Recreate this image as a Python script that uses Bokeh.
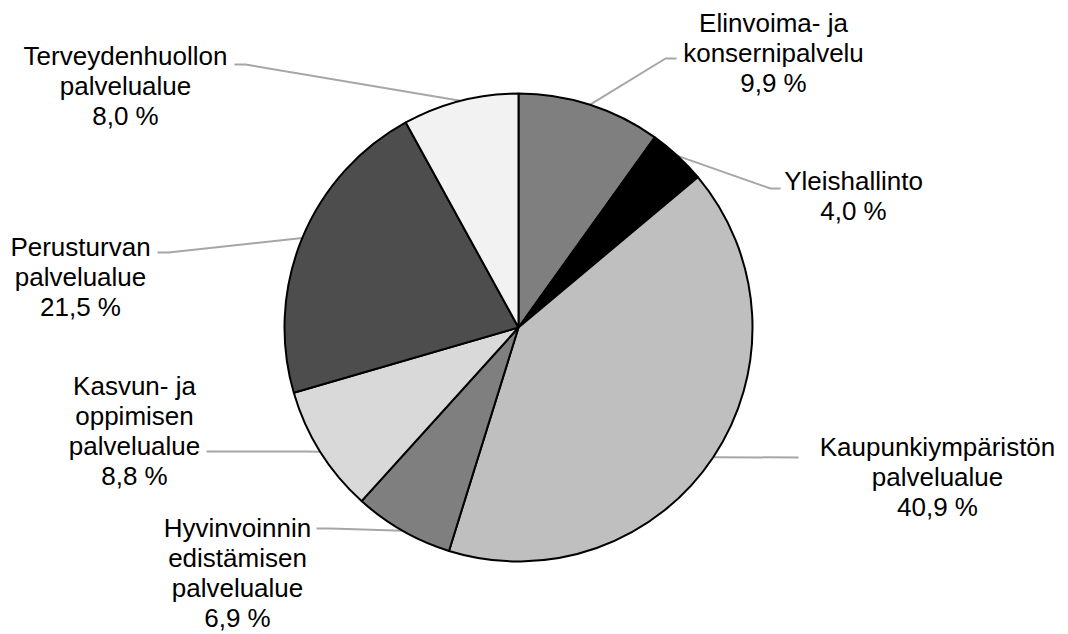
import numpy as np
from bokeh.plotting import figure
from bokeh.models import Range1d
from bokeh.core.properties import value
from bokeh.embed import file_html
from bokeh.resources import INLINE

# ---- data ----
categories = [
    "Elinvoima- ja\nkonsernipalvelu",
    "Yleishallinto",
    "Kaupunkiympäristön\npalvelualue",
    "Hyvinvoinnin\nedistämisen\npalvelualue",
    "Kasvun- ja\noppimisen\npalvelualue",
    "Perusturvan\npalvelualue",
    "Terveydenhuollon\npalvelualue",
]
shares = [9.9, 4.0, 40.9, 6.9, 8.8, 21.5, 8.0]
colors = ["#7f7f7f", "#000000", "#bfbfbf", "#7f7f7f", "#d9d9d9", "#4d4d4d", "#f2f2f2"]

# ---- layout (image pixel coordinates) ----
W, H = 1068, 634
CX, CY, R = 518, 327, 234
label_pos = [(773, 22), (853, 180), (937, 446), (237, 527), (134, 385), (80, 246), (125, 55)]
leader_elbow = [(665, 58), (770, 188), (798, 457), (330, 528), (305, 451), (168, 252), (245, 64)]
leader_end = [(676, 58), (780, 188), (798, 457), (316, 528), (206, 451), (157, 252), (234, 64)]
LINE_H = 30


def X(ix):
    return ix


def Y(iy):
    return H - iy


p = figure(width=W, height=H, output_backend="svg", toolbar_location=None,
           x_range=Range1d(0, W), y_range=Range1d(0, H), min_border=0)
p.axis.visible = False
p.grid.visible = False
p.outline_line_color = None
p.background_fill_color = "white"
p.border_fill_color = "white"

frac = np.array(shares) / sum(shares)
cum_after = np.cumsum(frac)
cum_before = cum_after - frac
start = np.pi / 2 - 2 * np.pi * cum_before
end = np.pi / 2 - 2 * np.pi * cum_after
mid = (start + end) / 2

# leader lines
xs, ys = [], []
for i in range(len(shares)):
    px = CX + R * np.cos(mid[i])
    py = CY - R * np.sin(mid[i])
    ex, ey = leader_elbow[i]
    tx, ty = leader_end[i]
    xs.append([X(px), X(ex), X(tx)])
    ys.append([Y(py), Y(ey), Y(ty)])
p.multi_line(xs=xs, ys=ys, line_color="#a6a6a6", line_width=2)

p.wedge(x=X(CX), y=Y(CY), radius=R, start_angle=list(start), end_angle=list(end),
        direction="clock", fill_color=colors, line_color="black", line_width=2)

tx, ty, tt = [], [], []
for i, cat in enumerate(categories):
    lines = cat.split("\n") + [f"{shares[i]:.1f}".replace(".", ",") + " %"]
    lx, ly = label_pos[i]
    for j, ln in enumerate(lines):
        tx.append(X(lx))
        ty.append(Y(ly + j * LINE_H))
        tt.append(ln)
p.text(x=tx, y=ty, text=tt, text_font=value("Liberation Sans"), text_font_size="26px",
       text_align="center", text_baseline="middle", text_color="#000000")

open("out.html", "w").write(file_html(p, INLINE))
